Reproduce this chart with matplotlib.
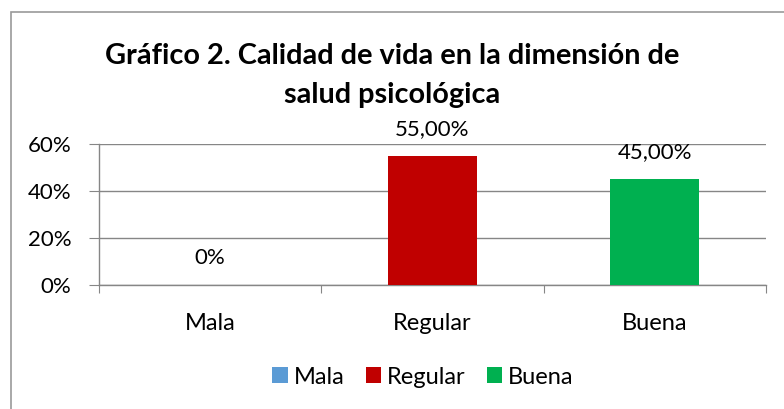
import matplotlib.pyplot as plt
from matplotlib.patches import Rectangle
from matplotlib.ticker import PercentFormatter

categories = ["Mala", "Regular", "Buena"]
values = [0.0, 0.55, 0.45]
bar_labels = ["0%", "55,00%", "45,00%"]
colors = ["#5B9BD5", "#C00000", "#00B050"]
yticks = [0.0, 0.2, 0.4, 0.6]

plt.rcParams['font.family'] = ['Lato', 'DejaVu Sans']

W, H = 784, 409
fig = plt.figure(figsize=(W / 100, H / 100), dpi=100)

# chart border (runs off the right and bottom edges)
fig.patches.append(Rectangle((11 / W, -0.1), 1.2, (H - 12) / H + 0.1,
                             transform=fig.transFigure, fill=False,
                             edgecolor="#9a9a9a", linewidth=1.2))

ax = fig.add_axes([99 / W, 1 - 285 / H, (766 - 99) / W, (285 - 144) / H])

x = list(range(len(categories)))
bars = ax.bar(x, values, width=0.4, color=colors, label=categories, zorder=3)

for b, lab in zip(bars, bar_labels):
    ax.annotate(lab, (b.get_x() + b.get_width() / 2, b.get_height()),
                xytext=(0, 19.5), textcoords="offset points",
                ha="center", va="center", fontsize=16, color="#000000")

ax.set_xlim(-0.5, 2.5)
ax.set_ylim(0, 0.6)
ax.set_yticks(yticks)
ax.yaxis.set_major_formatter(PercentFormatter(1.0, decimals=0))
ax.grid(axis="y", color="#868686", linewidth=1, zorder=0)

ax.set_xticks([-0.5, 0.5, 1.5, 2.5])
ax.set_xticklabels([])
ax.set_xticks(x, minor=True)
ax.set_xticklabels(categories, minor=True)
ax.tick_params(axis="x", which="major", length=6, color="#868686", direction="out")
ax.tick_params(axis="x", which="minor", length=0, pad=20, labelsize=17)
ax.tick_params(axis="y", length=7, color="#868686", pad=13, labelsize=16)

for s in ["top", "right"]:
    ax.spines[s].set_visible(False)
for s in ["left", "bottom"]:
    ax.spines[s].set_color("#868686")
    ax.spines[s].set_linewidth(1)

fig.text(392 / W, 1 - 56 / H,
         "Gráfico 2. Calidad de vida en la dimensión de",
         ha="center", va="center", fontsize=20.8, fontweight="bold")
fig.text(392 / W, 1 - 95 / H, "salud psicológica",
         ha="center", va="center", fontsize=20.8, fontweight="bold")

fig.legend(handles=bars, labels=categories, loc="center",
           bbox_to_anchor=(423 / W, 1 - 377 / H), ncol=3,
           frameon=False, fontsize=17, handlelength=0.65, handleheight=0.65,
           handletextpad=0.25, columnspacing=0.9)

fig.savefig("out.png", dpi=100)
